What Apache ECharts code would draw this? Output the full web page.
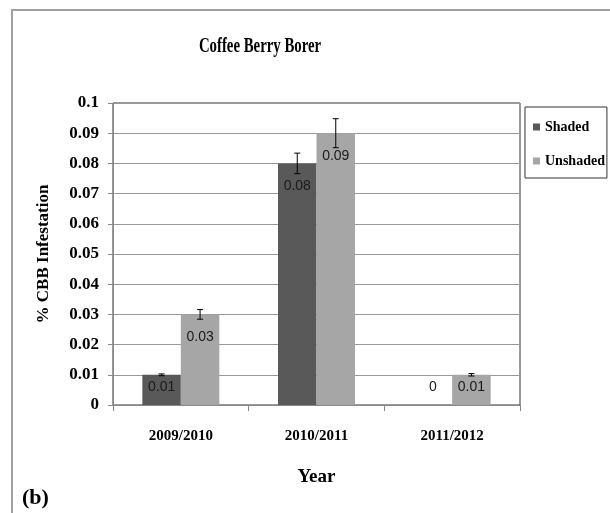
<!DOCTYPE html>
<html>
<head>
<meta charset="utf-8">
<script src="https://cdn.jsdelivr.net/npm/echarts@6/dist/echarts.min.js"></script>
<style>
  html, body { margin: 0; padding: 0; background: #fff; }
  #chart { width: 610px; height: 513px; }
</style>
</head>
<body>
<div id="chart"></div>
<script>
// Coffee Berry Borer infestation by season, shaded vs unshaded plots
const years = ['2009/2010', '2010/2011', '2011/2012'];
const shaded = [0.01, 0.08, 0];
const unshaded = [0.03, 0.09, 0.01];
const shadedErr = [0.0003, 0.0034, 0];
const unshadedErr = [0.0016, 0.0048, 0.0004];
const yTicks = [0, 0.01, 0.02, 0.03, 0.04, 0.05, 0.06, 0.07, 0.08, 0.09, 0.1];

const BAR_W = 38.5;
const SERIF = '"Liberation Serif", "DejaVu Serif", serif';
const SANS = '"Liberation Sans Narrow", "Liberation Sans", Arial, sans-serif';

// Value label placement: inside near the top for tall bars, centred for short ones,
// just above the baseline for empty bars
function labelFor(v) {
  let pos;
  if (v >= 0.02) pos = ['50%', 23];
  else if (v > 0) pos = ['50%', 12];
  else pos = ['50%', -18];
  return {
    show: true,
    position: pos,
    align: 'center',
    verticalAlign: 'middle',
    formatter: String(v),
    color: '#1a1a1a',
    fontFamily: SANS,
    fontSize: 14
  };
}

function barData(values) {
  return values.map(v => ({ value: v, label: labelFor(v) }));
}

// I-beam error bars, shifted to the centre of each bar in the pair
function errorSeries(values, errs, side) {
  return {
    type: 'custom',
    z: 5,
    silent: true,
    data: values.map((v, i) => [i, v, errs[i]]),
    encode: { x: 0, y: 1 },
    renderItem(params, api) {
      const i = api.value(0), v = api.value(1), e = api.value(2);
      if (!e) return null;
      const hi = api.coord([i, v + e]);
      const lo = api.coord([i, v - e]);
      const x = hi[0] + side * BAR_W / 2;
      const cap = 3;
      const style = { stroke: '#000', lineWidth: 1 };
      return {
        type: 'group',
        children: [
          { type: 'line', shape: { x1: x, y1: hi[1], x2: x, y2: lo[1] }, style },
          { type: 'line', shape: { x1: x - cap, y1: hi[1], x2: x + cap, y2: hi[1] }, style },
          { type: 'line', shape: { x1: x - cap, y1: lo[1], x2: x + cap, y2: lo[1] }, style }
        ]
      };
    }
  };
}

const chart = echarts.init(document.getElementById('chart'), null, { renderer: 'canvas' });

chart.setOption({
  animation: false,
  backgroundColor: '#fff',
  grid: {
    left: 113, top: 103, right: 90, bottom: 108,
    show: true, borderColor: '#333', borderWidth: 1, backgroundColor: 'transparent'
  },
  legend: {
    data: ['Shaded', 'Unshaded'],
    orient: 'vertical',
    left: 525, top: 107,
    padding: [13, 2, 10, 8],
    itemGap: 20,
    itemWidth: 7, itemHeight: 7,
    icon: 'rect',
    borderColor: '#333', borderWidth: 1,
    textStyle: { fontFamily: SERIF, fontWeight: 'bold', fontSize: 14, color: '#000' }
  },
  xAxis: {
    type: 'category',
    data: years,
    name: 'Year',
    nameLocation: 'middle',
    nameGap: 63,
    nameTextStyle: { fontFamily: SERIF, fontWeight: 'bold', fontSize: 19, color: '#000' },
    axisLine: { lineStyle: { color: '#888' } },
    axisTick: { show: true, length: 6, lineStyle: { color: '#888' } },
    axisLabel: { margin: 24, fontFamily: SERIF, fontWeight: 'bold', fontSize: 15, color: '#000' }
  },
  yAxis: {
    type: 'value',
    min: 0, max: 0.1, interval: 0.01,
    name: '% CBB Infestation',
    nameLocation: 'middle',
    nameGap: 61,
    nameTextStyle: { fontFamily: SERIF, fontWeight: 'bold', fontSize: 17, color: '#000' },
    axisLine: { show: true, lineStyle: { color: '#888' } },
    axisTick: { show: true, length: 5, lineStyle: { color: '#888' } },
    splitLine: { lineStyle: { color: '#999' } },
    axisLabel: {
      margin: 14,
      fontFamily: SERIF, fontWeight: 'bold', fontSize: 17, color: '#000',
      customValues: yTicks,
      formatter: v => (v === 0 ? '0' : String(+v.toFixed(2)))
    }
  },
  series: [
    {
      name: 'Shaded', type: 'bar', barWidth: BAR_W, barGap: '0%',
      itemStyle: { color: '#595959' },
      data: barData(shaded)
    },
    {
      name: 'Unshaded', type: 'bar', barWidth: BAR_W, barGap: '0%',
      itemStyle: { color: '#a6a6a6' },
      data: barData(unshaded)
    },
    errorSeries(shaded, shadedErr, -1),
    errorSeries(unshaded, unshadedErr, 1)
  ],
  graphic: [
    {
      type: 'polyline',
      shape: { points: [[12, 520], [12, 10], [612, 10]] },
      style: { stroke: '#a0a0a0', lineWidth: 2, fill: null },
      silent: true
    },
    {
      type: 'text', x: 260, y: 47, scaleX: 0.74,
      style: {
        text: 'Coffee Berry Borer', align: 'center', verticalAlign: 'middle',
        font: 'bold 20px ' + SERIF, fill: '#000'
      }
    },
    {
      type: 'text', x: 22, y: 498,
      style: {
        text: '(b)', align: 'left', verticalAlign: 'middle',
        font: 'bold 22px ' + SERIF, fill: '#000'
      }
    }
  ]
});
</script>
</body>
</html>
